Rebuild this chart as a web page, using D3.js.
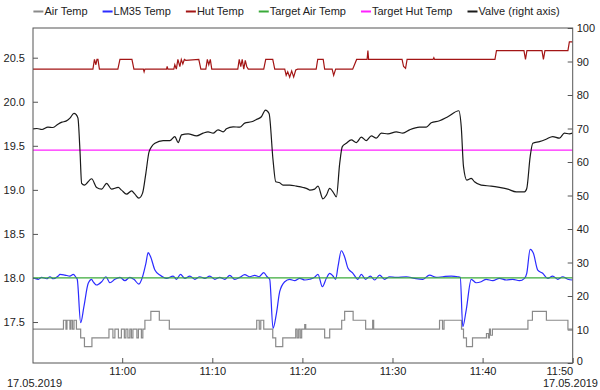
<!DOCTYPE html>
<html>
<head>
<meta charset="utf-8">
<script src="https://cdn.jsdelivr.net/npm/d3@7"></script>
<style>
  body { margin: 0; background: #fff; }
  svg { display: block; font-family: "Liberation Sans", Arial, Helvetica, sans-serif; font-size: 11px; }
</style>
</head>
<body>
<script>
// all times are minutes after 10:00 on 17.05.2019
const airTemp = [ // step changes, value holds until next point
  [50.10,17.42],[53.48,17.52],[53.76,17.42],[53.87,17.52],[54.20,17.42],[54.31,17.52],[54.48,17.42],
  [54.65,17.52],[54.92,17.42],[55.39,17.32],[55.81,17.22],[56.64,17.32],[58.53,17.42],[58.97,17.32],
  [59.19,17.42],[59.58,17.32],[59.91,17.42],[60.24,17.32],[60.41,17.42],[60.63,17.32],[60.85,17.42],
  [61.02,17.32],[61.19,17.42],[61.63,17.32],[61.80,17.42],[62.13,17.32],[62.29,17.42],[62.52,17.52],
  [63.18,17.62],[64.12,17.52],[65.23,17.42],[74.93,17.52],[75.21,17.42],[75.38,17.52],[75.71,17.42],
  [76.71,17.32],[77.04,17.22],[77.82,17.32],[79.26,17.42],[79.42,17.32],[79.59,17.42],[79.76,17.32],
  [79.92,17.42],[80.26,17.47],[80.37,17.42],[82.47,17.32],[83.03,17.42],[84.36,17.52],[84.69,17.62],
  [85.63,17.52],[87.02,17.42],[87.80,17.52],[87.91,17.42],[95.22,17.52],[95.55,17.42],[95.72,17.52],
  [97.66,17.42],[97.88,17.32],[98.21,17.22],[98.88,17.32],[100.43,17.37],[100.65,17.32],[100.76,17.42],
  [100.87,17.35],[101.09,17.42],[105.03,17.52],[105.53,17.62],[107.08,17.52],[109.47,17.42],[110.00,17.42]
];

const lm35Temp = [
  [50.13,18.00],[50.69,17.985],[51.06,18.007],[51.62,17.991],[51.98,18.014],[52.35,17.991],[52.90,18.022],
  [53.09,18.041],[53.65,18.033],[54.20,18.022],[54.57,18.041],[54.87,18.007],[55.01,17.985],[55.39,17.492],
  [55.75,17.674],[56.23,17.939],[56.61,17.985],[56.78,17.957],[57.16,17.92],[57.72,17.957],[58.19,18.014],
  [58.64,17.946],[59.19,17.985],[59.75,18.007],[60.30,17.969],[60.85,18.007],[61.30,17.985],[61.85,17.931],
  [62.26,18.014],[62.63,18.166],[62.88,18.287],[63.15,18.241],[63.63,18.09],[64.18,18.033],[64.92,17.996],
  [65.65,18.022],[66.03,17.985],[66.47,18.041],[66.95,17.996],[67.51,18.022],[68.06,17.985],[68.61,18.014],
  [69.17,17.996],[69.72,18.022],[70.28,17.985],[70.83,18.007],[71.38,17.985],[71.94,18.03],[72.49,17.985],
  [73.05,18.007],[73.60,18.037],[74.16,18.014],[74.71,18.03],[75.19,18.014],[75.71,18.06],[76.08,18.014],
  [76.37,17.985],[76.74,17.428],[77.12,17.599],[77.48,17.844],[78.04,17.957],[78.59,17.985],[79.15,17.969],
  [79.70,17.996],[80.26,17.977],[80.81,17.985],[81.36,18.007],[81.73,18.041],[82.22,17.901],[82.66,17.996],
  [83.03,18.053],[83.39,18.022],[83.69,17.985],[83.95,18.128],[84.32,18.309],[84.68,18.241],[85.06,18.11],
  [85.61,18.053],[86.16,17.985],[86.54,18.041],[87.02,17.985],[87.54,18.022],[88.02,17.977],[88.57,18.033],
  [89.12,17.985],[89.68,18.014],[90.42,18.007],[91.53,18.014],[92.45,17.996],[93.37,17.985],[94.11,18.033],
  [94.86,18.007],[95.59,18.014],[96.52,18.022],[97.25,18.014],[97.52,18.007],[97.80,17.447],[98.18,17.636],
  [98.74,17.985],[99.29,17.946],[99.84,17.957],[100.40,17.985],[101.13,17.969],[101.87,17.996],[102.62,17.977],
  [103.35,17.985],[104.09,17.969],[104.65,17.996],[104.90,18.053],[105.28,18.325],[105.64,18.28],[106.12,18.09],
  [106.67,18.053],[107.23,17.996],[107.78,18.022],[108.34,17.985],[108.89,18.014],[109.45,17.985],[110.00,17.977]
];

const hutTemp = [
  [50.10,20.37],[56.75,20.37],[56.92,20.48],[57.08,20.42],[57.20,20.48],[57.31,20.48],[57.47,20.37],
  [59.52,20.37],[59.75,20.48],[61.08,20.48],[61.30,20.37],[62.35,20.37],[62.43,20.34],[62.52,20.37],
  [64.92,20.37],[64.99,20.40],[65.07,20.37],[65.73,20.37],[65.84,20.42],[66.01,20.37],[66.18,20.48],
  [66.40,20.40],[66.56,20.48],[66.73,20.43],[66.90,20.48],[67.06,20.47],[68.50,20.48],[68.73,20.37],
  [69.28,20.37],[69.45,20.48],[69.61,20.42],[69.78,20.48],[69.94,20.37],[72.83,20.37],[72.99,20.48],
  [73.16,20.40],[73.32,20.48],[73.49,20.37],[73.66,20.47],[73.82,20.40],[73.99,20.37],[75.71,20.37],
  [75.93,20.48],[76.71,20.48],[76.93,20.37],[78.04,20.37],[78.20,20.30],[78.37,20.34],[78.59,20.28],
  [78.81,20.35],[79.03,20.28],[79.26,20.36],[79.48,20.37],[81.53,20.37],[81.70,20.48],[82.31,20.48],
  [82.47,20.37],[83.30,20.37],[83.47,20.30],[83.69,20.37],[85.58,20.37],[86.02,20.48],[87.18,20.48],
  [87.27,20.58],[87.35,20.48],[91.06,20.48],[91.23,20.40],[91.45,20.38],[91.62,20.48],[94.50,20.48],
  [94.59,20.50],[94.67,20.48],[101.37,20.48],[101.54,20.58],[104.59,20.58],[104.76,20.48],[104.92,20.58],
  [106.59,20.58],[106.75,20.48],[106.92,20.58],[109.47,20.58],[109.63,20.68],[110.00,20.68]
];

const targetAirTemp = 18.0;
const targetHutTemp = 19.45;

const valve = [ // percent, right axis
  [50.10,69.9],[50.54,70.0],[51.10,69.7],[51.76,70.4],[52.32,70.3],[52.87,71.3],[53.31,71.9],[53.76,72.2],
  [54.20,73.1],[54.65,74.5],[54.87,74.2],[55.09,73.1],[55.31,63.6],[55.50,53.6],[55.80,53.1],[56.61,55.0],
  [57.16,52.4],[57.72,51.9],[58.27,53.6],[58.82,51.9],[59.56,52.4],[59.93,51.6],[60.49,50.4],[61.04,51.4],
  [61.41,50.4],[61.85,49.2],[62.26,50.7],[62.63,56.7],[62.99,63.1],[63.63,65.6],[64.55,66.4],[65.29,66.4],
  [65.84,67.6],[66.21,65.8],[66.59,68.1],[67.32,68.4],[68.25,67.8],[68.98,68.6],[69.53,69.0],[70.09,68.6],
  [70.64,69.6],[71.20,69.0],[71.57,69.9],[72.31,70.5],[73.05,70.4],[73.60,71.6],[74.35,72.0],[74.90,72.7],
  [75.45,73.5],[75.90,75.5],[76.30,74.5],[76.74,60.6],[77.04,54.1],[77.48,53.8],[77.85,53.1],[78.59,53.1],
  [79.33,52.8],[80.07,52.4],[80.62,51.9],[80.81,51.6],[81.36,51.9],[81.73,52.8],[82.28,49.0],[82.66,50.1],
  [83.03,52.1],[83.39,51.1],[83.77,49.6],[84.14,59.6],[84.43,64.6],[84.88,65.6],[85.43,66.6],[85.99,65.8],
  [86.54,67.4],[87.10,66.4],[87.65,67.8],[88.20,67.1],[88.76,68.6],[89.49,68.4],[90.42,69.0],[91.15,68.6],
  [91.90,69.6],[93.00,70.4],[93.75,70.4],[94.30,71.7],[95.22,72.3],[96.14,73.5],[97.36,75.3],[97.63,70.5],
  [97.88,58.6],[98.25,54.6],[98.74,55.1],[99.10,54.1],[99.84,53.1],[100.95,52.8],[101.87,52.4],[102.79,51.9],
  [103.73,51.1],[104.65,51.1],[104.90,52.1],[105.28,61.6],[105.57,65.6],[106.31,66.1],[107.05,66.8],
  [107.78,67.6],[108.53,67.1],[109.08,68.6],[109.63,68.4],[109.97,68.6]
];

const leftTicks = [17.5, 18.0, 18.5, 19.0, 19.5, 20.0, 20.5];
const rightTicks = [0, 10, 20, 30, 40, 50, 60, 70, 80, 90, 100];
const dateLabel = "17.05.2019";

const series = [
  {name: "Air Temp", color: "#8a8a8a"},
  {name: "LM35 Temp", color: "#2b2bff"},
  {name: "Hut Temp", color: "#a31515"},
  {name: "Target Air Temp", color: "#3aaa3a"},
  {name: "Target Hut Temp", color: "#ff22ff"},
  {name: "Valve (right axis)", color: "#1a1a1a"}
];

const W = 600, H = 390;
const margin = {top: 28, right: 27.3, bottom: 27, left: 33};
const width = W - margin.left - margin.right;
const height = H - margin.top - margin.bottom;

const base = new Date(2019, 4, 17, 10, 0, 0);
const toDate = m => new Date(base.getTime() + m * 60000);

const x = d3.scaleTime().domain([toDate(50.10), toDate(110)]).range([0, width]);
const yL = d3.scaleLinear().domain([17.035, 20.837]).range([height, 0]);
const yR = d3.scaleLinear().domain([0, 100]).range([height, 0]);

const svg = d3.select("body").append("svg").attr("width", W).attr("height", H);
const g = svg.append("g").attr("transform", `translate(${margin.left},${margin.top})`);

g.append("clipPath").attr("id", "clip")
  .append("rect").attr("width", width).attr("height", height);

// axes, ticks pointing inward
const axL = g.append("g")
  .call(d3.axisLeft(yL).tickValues(leftTicks).tickFormat(d3.format(".1f")).tickSizeInner(-5).tickSizeOuter(0).tickPadding(8));
const axR = g.append("g").attr("transform", `translate(${width},0)`)
  .call(d3.axisRight(yR).tickValues(rightTicks).tickSizeInner(-5).tickSizeOuter(0).tickPadding(4));
const xTicks = x.ticks(d3.timeMinute.every(10));
const axB = g.append("g").attr("transform", `translate(0,${height})`)
  .call(d3.axisBottom(x).tickValues(xTicks).tickFormat(d3.timeFormat("%H:%M")).tickSizeInner(-5).tickSizeOuter(0).tickPadding(4));
axB.selectAll(".tick text").filter((d, i) => i === xTicks.length - 1).attr("text-anchor", "end");

[axL, axR, axB].forEach(a => {
  a.select(".domain").remove();
  a.selectAll(".tick line").attr("stroke", "#555");
  a.selectAll("text").attr("fill", "#222").style("font-size", "11px").style("font-family", null);
});
axR.selectAll(".tick text").filter(d => d === 0).attr("dy", "0.12em");

const lineL = d3.line().x(d => x(toDate(d[0]))).y(d => yL(d[1]));
const plot = g.append("g").attr("clip-path", "url(#clip)");

plot.append("path").datum(airTemp)
  .attr("fill", "none").attr("stroke", series[0].color).attr("stroke-width", 1.2)
  .attr("d", lineL.curve(d3.curveStepAfter));
plot.append("path").datum(lm35Temp)
  .attr("fill", "none").attr("stroke", series[1].color).attr("stroke-width", 1.2)
  .attr("d", d3.line().x(d => x(toDate(d[0]))).y(d => yL(d[1])).curve(d3.curveMonotoneX));
plot.append("path").datum(hutTemp)
  .attr("fill", "none").attr("stroke", series[2].color).attr("stroke-width", 1.2)
  .attr("d", d3.line().x(d => x(toDate(d[0]))).y(d => yL(d[1])));
plot.append("line")
  .attr("x1", 0).attr("x2", width).attr("y1", yL(targetAirTemp)).attr("y2", yL(targetAirTemp))
  .attr("stroke", series[3].color).attr("stroke-width", 1.2);
plot.append("line")
  .attr("x1", 0).attr("x2", width).attr("y1", yL(targetHutTemp)).attr("y2", yL(targetHutTemp))
  .attr("stroke", series[4].color).attr("stroke-width", 1.2);
plot.append("path").datum(valve)
  .attr("fill", "none").attr("stroke", series[5].color).attr("stroke-width", 1.2)
  .attr("d", d3.line().x(d => x(toDate(d[0]))).y(d => yR(d[1])).curve(d3.curveMonotoneX));

// frame
g.append("rect").attr("width", width).attr("height", height)
  .attr("fill", "none").attr("stroke", "#555").attr("stroke-width", 1);

// date under first and last tick
svg.append("text").attr("x", 7).attr("y", 387).attr("fill", "#222").text(dateLabel);
svg.append("text").attr("x", 598).attr("y", 387).attr("text-anchor", "end").attr("fill", "#222").text(dateLabel);

// legend, centred above the plot
const leg = svg.append("g");
let lx = 0;
series.forEach(s => {
  const item = leg.append("g").attr("transform", `translate(${lx},0)`);
  item.append("line").attr("x1", 0).attr("x2", 10).attr("y1", 0).attr("y2", 0)
    .attr("stroke", s.color).attr("stroke-width", 2);
  const t = item.append("text").attr("x", 11).attr("dy", "0.35em").attr("fill", "#222").text(s.name);
  lx += 11 + t.node().getComputedTextLength() + 15;
});
const legW = lx - 15;
leg.attr("transform", `translate(${296.5 - legW / 2},11.5)`);
</script>
</body>
</html>
